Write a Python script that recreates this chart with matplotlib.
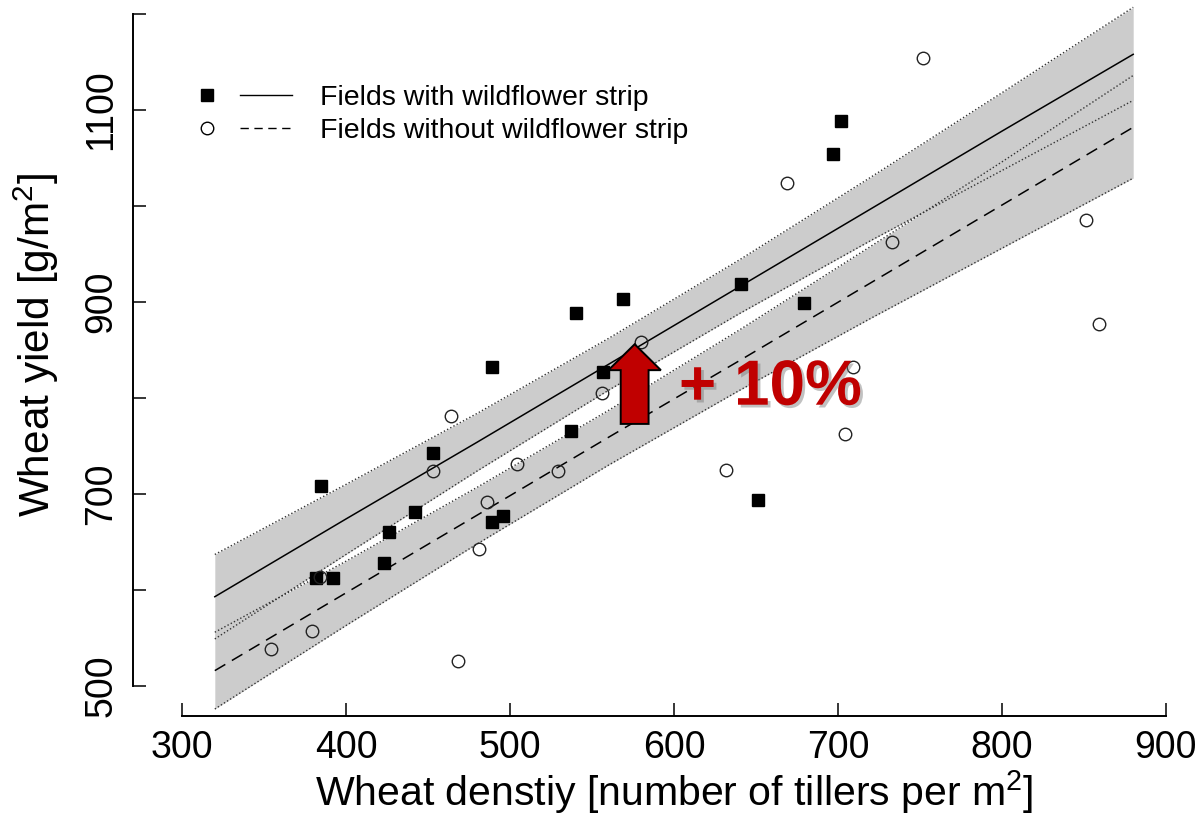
import matplotlib.pyplot as plt
import matplotlib.patheffects as pe
from matplotlib.lines import Line2D
from matplotlib.legend_handler import HandlerTuple
from matplotlib.patches import FancyArrow

plt.rcParams['font.family'] = ['Liberation Sans', 'DejaVu Sans']
plt.rcParams['mathtext.fontset'] = 'custom'
plt.rcParams['mathtext.rm'] = 'Liberation Sans'
plt.rcParams['mathtext.it'] = 'Liberation Sans:italic'

# fields with wildflower strip (filled squares)
wf_density = [385, 382, 392, 423, 426, 442, 453, 489, 489, 496, 537, 540, 557, 569, 641, 651, 679, 697, 702]
wf_yield = [708, 612, 612, 628, 660, 681, 743, 832, 671, 677, 766, 889, 827, 903, 919, 694, 899, 1054, 1089]

# fields without wildflower strip (open circles)
nowf_density = [354, 379, 384, 453, 464, 468, 481, 486, 504, 529, 556, 580, 632, 669, 704, 709, 733, 752, 851, 859]
nowf_yield = [539, 557, 614, 724, 781, 526, 643, 692, 731, 724, 805, 858, 725, 1024, 762, 832, 963, 1154, 985, 877]

# fitted lines and confidence bands
band_x = [320, 400, 480, 560, 640, 720, 800, 880]
wf_fit = [593, 674, 754, 835, 916, 997, 1078, 1158]
wf_upper = [637, 710, 784, 862, 944, 1030, 1118, 1207]
wf_lower = [549, 637, 724, 808, 888, 964, 1037, 1110]
nowf_fit = [516, 597, 678, 759, 839, 920, 1001, 1082]
nowf_upper = [556, 630, 707, 787, 871, 958, 1046, 1136]
nowf_lower = [476, 563, 648, 730, 808, 883, 956, 1029]

x_ticks = [300, 400, 500, 600, 700, 800, 900]
y_ticks = [500, 600, 700, 800, 900, 1000, 1100, 1200]
y_labeled = [500, 700, 900, 1100]

labels = ['Fields with wildflower strip', 'Fields without wildflower strip']

# annotation: +10% arrow
arrow_x = 576
arrow_base = 773
arrow_tip = 856
gain_text = '+ 10%'

W, H = 1202, 817
fig = plt.figure(figsize=(W / 100, H / 100), dpi=100)
ax = fig.add_axes([182 / W, 131 / H, 984 / W, 672 / H])
ax.set_xlim(300, 900)
ax.set_ylim(500, 1200)

grey = '#cccccc'
ax.fill_between(band_x, wf_lower, wf_upper, color=grey, lw=0, clip_on=False, zorder=1)
ax.fill_between(band_x, nowf_lower, nowf_upper, color=grey, lw=0, clip_on=False, zorder=1)

dot = (0, (1, 1.6))
for b in [wf_upper, wf_lower, nowf_upper, nowf_lower]:
    ax.plot(band_x, b, color='#333333', lw=1.0, linestyle=dot, clip_on=False, zorder=2)

ax.plot(band_x, wf_fit, color='black', lw=1.1, clip_on=False, zorder=3)
ax.plot(band_x, nowf_fit, color='black', lw=1.1, dashes=(8, 5), clip_on=False, zorder=3)

ax.plot(wf_density, wf_yield, ls='none', marker='s', ms=9, color='black', zorder=4)
ax.plot(nowf_density, nowf_yield, ls='none', marker='o', ms=9, mfc='none',
        mec='#222222', mew=1.0, zorder=4)

arr = FancyArrow(arrow_x, arrow_base, 0, arrow_tip - arrow_base, width=17, head_width=32,
                 head_length=27, length_includes_head=True, fc='#c00000', ec='black',
                 lw=1.4, zorder=6)
ax.add_patch(arr)
ax.text(603, 793, gain_text, color='#c00000', fontsize=46, fontweight='bold',
        ha='left', va='baseline', zorder=7,
        path_effects=[pe.withSimplePatchShadow(offset=(2, -2), shadow_rgbFace='#777777', alpha=0.45)])

# R-like detached axes
for s in ['top', 'right']:
    ax.spines[s].set_visible(False)
ax.spines['left'].set_position(('outward', 49 * 0.72))
ax.spines['bottom'].set_position(('outward', 30 * 0.72))
ax.spines['left'].set_bounds(500, 1200)
ax.spines['bottom'].set_bounds(300, 900)
ax.spines['left'].set_linewidth(1.4)
ax.spines['bottom'].set_linewidth(1.4)

ax.set_xticks(x_ticks)
ax.set_yticks(y_ticks)
ax.set_yticklabels([str(v) if v in y_labeled else '' for v in y_ticks])
ax.tick_params(direction='in', length=9.4, width=1.1, labelsize=27, pad=10)
for lbl in ax.get_yticklabels():
    lbl.set_rotation(90)
    lbl.set_va('center')

fig.text(674 / W, 1 - 806 / H, 'Wheat denstiy [number of tillers per m$^2$]', fontsize=29.5,
         ha='center', va='baseline')
fig.text(50 / W, 1 - 345 / H, 'Wheat yield [g/m$^2$]', fontsize=30.5, rotation=90,
         rotation_mode='anchor', ha='center', va='baseline')

h1 = (Line2D([], [], ls='none', marker='s', ms=9, color='black'),
      Line2D([], [], color='black', lw=1.0))
h2 = (Line2D([], [], ls='none', marker='o', ms=9, mfc='none', mec='black', mew=1.0),
      Line2D([], [], color='black', lw=1.0, dashes=(6, 4)))
fig.legend([h1, h2], labels, handler_map={tuple: HandlerTuple(ndivide=None, pad=0.25)},
           loc='upper left', bbox_to_anchor=(181 / W, 1 - 85 / H), frameon=False,
           fontsize=20.5, handlelength=3.9, handletextpad=0.98, borderpad=0,
           borderaxespad=0, labelspacing=0.26)

fig.savefig('out.png', dpi=100)
